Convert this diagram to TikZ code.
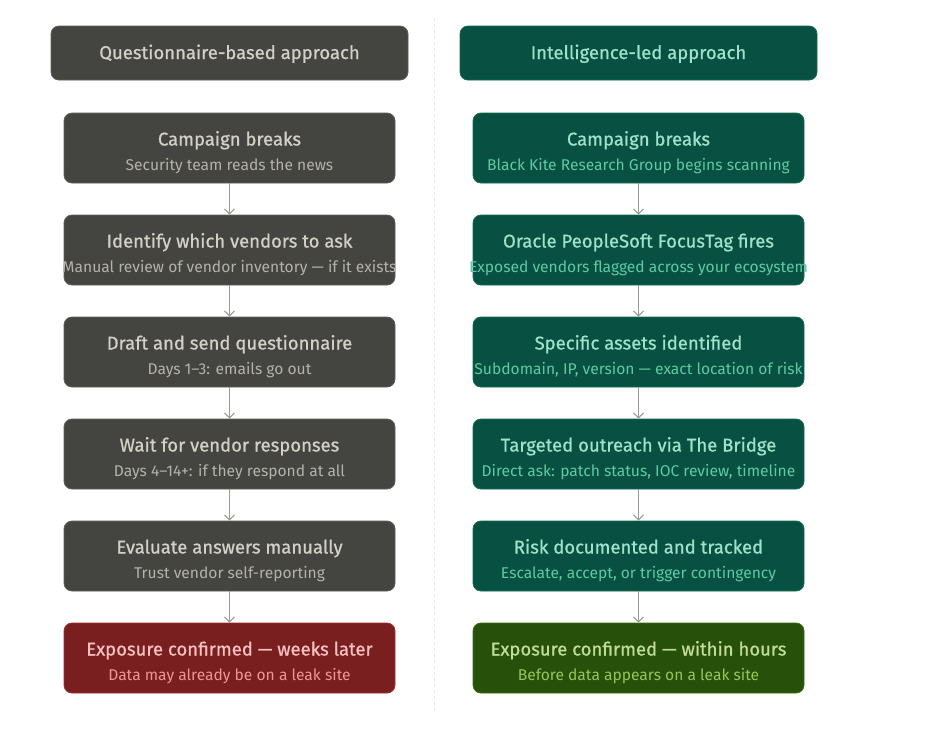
\documentclass[tikz,border=0pt]{standalone}
\usepackage{fontspec}
\setmainfont{Fira Sans}
\newfontfamily\medfont{Fira Sans}[FakeBold=0.8]
\usetikzlibrary{positioning, arrows.meta}
\usepackage{xcolor}
\definecolor{qfill}{HTML}{444441}
\definecolor{qline}{HTML}{5F5E5A}
\definecolor{qhead}{HTML}{D3D1C7}
\definecolor{qsub}{HTML}{B4B2A9}
\definecolor{ifill}{HTML}{085041}
\definecolor{iline}{HTML}{0F6E56}
\definecolor{ihead}{HTML}{9FE1CB}
\definecolor{isub}{HTML}{5DCAA5}
\definecolor{rfill}{HTML}{791F1F}
\definecolor{rline}{HTML}{A32D2D}
\definecolor{rhead}{HTML}{F7C1C1}
\definecolor{rsub}{HTML}{F09595}
\definecolor{gfill}{HTML}{27500A}
\definecolor{gline}{HTML}{3B6D11}
\definecolor{ghead}{HTML}{C0DD97}
\definecolor{gsub}{HTML}{97C459}
\definecolor{flowgray}{HTML}{9A9A95}
\definecolor{divgray}{HTML}{E6E6E3}

\tikzset{
  colhead/.style={rounded corners=8pt, line width=0.8pt, minimum width=357pt, minimum height=54pt},
  stepbox/.style={rounded corners=8pt, line width=0.8pt, minimum width=331pt, minimum height=70pt},
  headtxt/.style={anchor=base, inner sep=0pt, font=\fontsize{18.5}{22}\selectfont\medfont},
  subtxt/.style={anchor=base, inner sep=0pt, font=\fontsize{15.6}{18}\selectfont},
  flow/.style={-{Straight Barb[length=5pt, width=10pt]}, line width=1pt, color=flowgray},
}

\begin{document}
\begin{tikzpicture}[x=1pt, y=-1pt]
    \useasboundingbox[fill=white] (0,0) rectangle (936,740);
    \coordinate (divtop) at (434,18);
    \coordinate (divbot) at (434,712);
    \draw[divgray, dashed, line width=0.8pt] (divtop) -- (divbot);

    % column headers
    \node[colhead, draw=qline, fill=qfill] (qh) at (229.5,53) {};
    \node[headtxt, text=qhead] (qht) at ([yshift=-6pt]qh.center) {Questionnaire-based approach};
    \node[colhead, draw=iline, fill=ifill] (ih) at (638.5,53) {};
    \node[headtxt, text=ihead] (iht) at ([yshift=-6pt]ih.center) {Intelligence-led approach};

    % questionnaire column
    \node[stepbox, draw=qline, fill=qfill] (q1) at (229.5,148) {};
    \node[headtxt, text=qhead] (q1a) at ([yshift=2.5pt]q1.center) {Campaign breaks};
    \node[subtxt, text=qsub] (q1b) at ([yshift=-22.5pt]q1.center) {Security team reads the news};
    \node[stepbox, draw=qline, fill=qfill] (q2) at (229.5,250) {};
    \node[headtxt, text=qhead] (q2a) at ([yshift=2.5pt]q2.center) {Identify which vendors to ask};
    \node[subtxt, text=qsub] (q2b) at ([yshift=-22.5pt]q2.center) {Manual review of vendor inventory — if it exists};
    \node[stepbox, draw=qline, fill=qfill] (q3) at (229.5,352) {};
    \node[headtxt, text=qhead] (q3a) at ([yshift=2.5pt]q3.center) {Draft and send questionnaire};
    \node[subtxt, text=qsub] (q3b) at ([yshift=-22.5pt]q3.center) {Days 1–3: emails go out};
    \node[stepbox, draw=qline, fill=qfill] (q4) at (229.5,454) {};
    \node[headtxt, text=qhead] (q4a) at ([yshift=2.5pt]q4.center) {Wait for vendor responses};
    \node[subtxt, text=qsub] (q4b) at ([yshift=-22.5pt]q4.center) {Days 4–14+: if they respond at all};
    \node[stepbox, draw=qline, fill=qfill] (q5) at (229.5,556) {};
    \node[headtxt, text=qhead] (q5a) at ([yshift=2.5pt]q5.center) {Evaluate answers manually};
    \node[subtxt, text=qsub] (q5b) at ([yshift=-22.5pt]q5.center) {Trust vendor self-reporting};
    \node[stepbox, draw=rline, fill=rfill] (q6) at (229.5,658) {};
    \node[headtxt, text=rhead] (q6a) at ([yshift=2.5pt]q6.center) {Exposure confirmed — weeks later};
    \node[subtxt, text=rsub] (q6b) at ([yshift=-22.5pt]q6.center) {Data may already be on a leak site};

    % intelligence column
    \node[stepbox, draw=iline, fill=ifill] (i1) at (638.5,148) {};
    \node[headtxt, text=ihead] (i1a) at ([yshift=2.5pt]i1.center) {Campaign breaks};
    \node[subtxt, text=isub] (i1b) at ([yshift=-22.5pt]i1.center) {Black Kite Research Group begins scanning};
    \node[stepbox, draw=iline, fill=ifill] (i2) at (638.5,250) {};
    \node[headtxt, text=ihead] (i2a) at ([yshift=2.5pt]i2.center) {Oracle PeopleSoft FocusTag fires};
    \node[subtxt, text=isub] (i2b) at ([yshift=-22.5pt]i2.center) {Exposed vendors flagged across your ecosystem};
    \node[stepbox, draw=iline, fill=ifill] (i3) at (638.5,352) {};
    \node[headtxt, text=ihead] (i3a) at ([yshift=2.5pt]i3.center) {Specific assets identified};
    \node[subtxt, text=isub] (i3b) at ([yshift=-22.5pt]i3.center) {Subdomain, IP, version — exact location of risk};
    \node[stepbox, draw=iline, fill=ifill] (i4) at (638.5,454) {};
    \node[headtxt, text=ihead] (i4a) at ([yshift=2.5pt]i4.center) {Targeted outreach via The Bridge};
    \node[subtxt, text=isub] (i4b) at ([yshift=-22.5pt]i4.center) {Direct ask: patch status, IOC review, timeline};
    \node[stepbox, draw=iline, fill=ifill] (i5) at (638.5,556) {};
    \node[headtxt, text=ihead] (i5a) at ([yshift=2.5pt]i5.center) {Risk documented and tracked};
    \node[subtxt, text=isub] (i5b) at ([yshift=-22.5pt]i5.center) {Escalate, accept, or trigger contingency};
    \node[stepbox, draw=gline, fill=gfill] (i6) at (638.5,658) {};
    \node[headtxt, text=ghead] (i6a) at ([yshift=2.5pt]i6.center) {Exposure confirmed — within hours};
    \node[subtxt, text=gsub] (i6b) at ([yshift=-22.5pt]i6.center) {Before data appears on a leak site};

    \draw[flow] (q1) -- (q2);
    \draw[flow] (q2) -- (q3);
    \draw[flow] (q3) -- (q4);
    \draw[flow] (q4) -- (q5);
    \draw[flow] (q5) -- (q6);
    \draw[flow] (i1) -- (i2);
    \draw[flow] (i2) -- (i3);
    \draw[flow] (i3) -- (i4);
    \draw[flow] (i4) -- (i5);
    \draw[flow] (i5) -- (i6);
  \end{tikzpicture}
\end{document}
